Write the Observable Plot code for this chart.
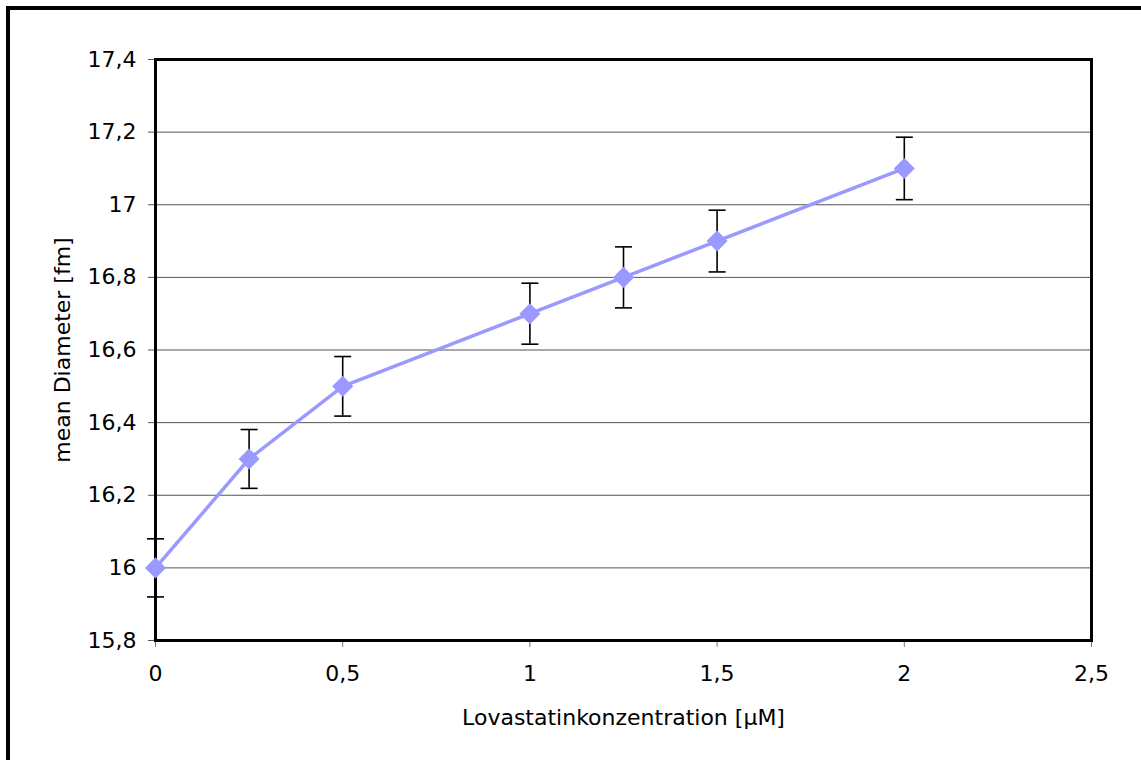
<!DOCTYPE html>
<html>
<head>
<meta charset="utf-8">
<script src="https://cdn.jsdelivr.net/npm/d3@7"></script>
<script src="https://cdn.jsdelivr.net/npm/@observablehq/plot@0.6"></script>
<style>
  html, body { margin: 0; padding: 0; background: #fff; }
  #wrap { position: relative; width: 1141px; height: 760px; overflow: hidden; }
  #outer { position: absolute; left: 6px; top: 6px; width: 1200px; height: 900px;
           border: 4px solid #000; box-sizing: border-box; pointer-events: none; }
  #chart { position: absolute; left: 0; top: 0; }
</style>
</head>
<body>
<div id="wrap">
  <div id="chart"></div>
  <div id="outer"></div>
</div>
<script>
// Lovastatin concentration (µM) and mean diameter (fm) with error
const concentration = [0, 0.25, 0.5, 1, 1.25, 1.5, 2];
const meanDiameter = [16.0, 16.3, 16.5, 16.7, 16.8, 16.9, 17.1];
const errorValue = [0.08, 0.081, 0.082, 0.084, 0.084, 0.085, 0.086];

const xTicks = [0, 0.5, 1, 1.5, 2, 2.5];
const yTicks = [15.8, 16.0, 16.2, 16.4, 16.6, 16.8, 17.0, 17.2, 17.4];

const rows = concentration.map((c, i) => ({
  x: c,
  y: meanDiameter[i],
  lo: meanDiameter[i] - errorValue[i],
  hi: meanDiameter[i] + errorValue[i]
}));

// Decimal comma, trailing zeros dropped (17 rather than 17,0)
const deFormat = d => String(+d.toFixed(2)).replace(".", ",");

// Horizontal cap for the error bars; half-width equals the dot radius
const capSymbol = {
  draw(context, size) {
    const r = Math.sqrt(size / Math.PI);
    context.moveTo(-r, 0);
    context.lineTo(r, 0);
  }
};

const markerColor = "#9999ff";
const fontSize = 22;

const chart = Plot.plot({
  width: 1141,
  height: 760,
  marginLeft: 155,
  marginRight: 50,
  marginTop: 59,
  marginBottom: 120,
  style: { fontFamily: "'DejaVu Sans', Verdana, sans-serif", fontSize: fontSize + "px", color: "#000", background: "transparent" },
  x: { domain: [0, 2.5] },
  y: { domain: [15.8, 17.4] },
  marks: [
    Plot.gridY(yTicks, { stroke: "#555", strokeOpacity: 1, strokeWidth: 1 }),
    Plot.axisY(yTicks, {
      tickFormat: deFormat, tickSize: 7, tickPadding: 12, stroke: "#555", fontSize,
      label: "mean Diameter [fm]", labelAnchor: "center", labelArrow: "none", labelOffset: 101
    }),
    Plot.axisX(xTicks, {
      tickFormat: deFormat, tickSize: 7, tickPadding: 18, stroke: "#777", fontSize,
      label: "Lovastatinkonzentration [µM]", labelAnchor: "center", labelArrow: "none", labelOffset: 84
    }),
    Plot.frame({ stroke: "#000", strokeWidth: 3 }),
    Plot.line(rows, { x: "x", y: "y", stroke: markerColor, strokeWidth: 3.5 }),
    Plot.ruleX(rows, { x: "x", y1: "lo", y2: "hi", stroke: "#000", strokeWidth: 1.6 }),
    Plot.dot(rows, { x: "x", y: "lo", symbol: capSymbol, r: 8.5, stroke: "#000", strokeWidth: 1.6 }),
    Plot.dot(rows, { x: "x", y: "hi", symbol: capSymbol, r: 8.5, stroke: "#000", strokeWidth: 1.6 }),
    Plot.dot(rows, { x: "x", y: "y", symbol: "diamond2", r: 9.5, fill: markerColor, stroke: "none" })
  ]
});

document.getElementById("chart").append(chart);
</script>
</body>
</html>
